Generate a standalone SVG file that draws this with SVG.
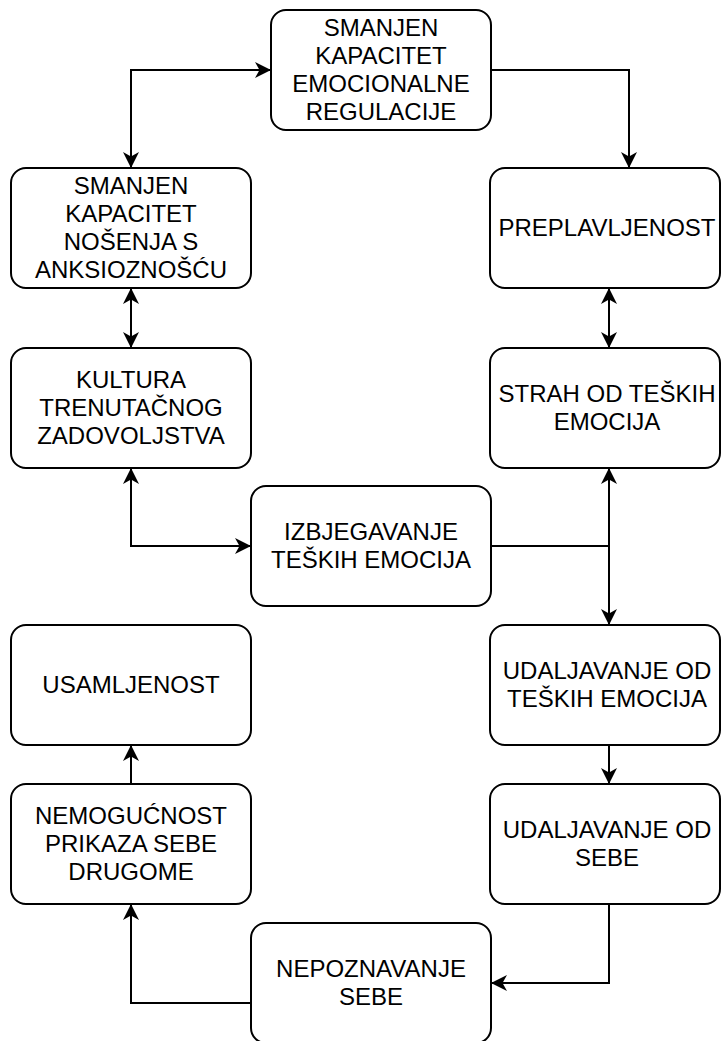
<svg xmlns="http://www.w3.org/2000/svg" width="721" height="1041" viewBox="0 0 721 1041">
<style>
.box{fill:#fff;stroke:#000;stroke-width:2}
.lbl{font-family:"Liberation Sans",Arial,Helvetica,sans-serif;font-size:24px;fill:#000;text-anchor:middle}
.edge{fill:none;stroke:#000;stroke-width:2}
</style>
<defs>
<marker id="arr" viewBox="0 -9 17 18" refX="16" refY="0" markerWidth="17" markerHeight="18" markerUnits="userSpaceOnUse" orient="auto-start-reverse">
<path d="M0,-8 L16,0 L0,8 L4.5,0 Z" fill="#000"/>
</marker>
</defs>
<rect width="721" height="1041" fill="#fff"/>
<g id="connectors">
<path class="edge" d="M131,168 V70 H271" marker-start="url(#arr)" marker-end="url(#arr)"/>
<path class="edge" d="M491,70 H629 V168" marker-end="url(#arr)"/>
<path class="edge" d="M131,288 V348" marker-start="url(#arr)" marker-end="url(#arr)"/>
<path class="edge" d="M609,288 V348" marker-start="url(#arr)" marker-end="url(#arr)"/>
<path class="edge" d="M131,468 V546 H251" marker-start="url(#arr)" marker-end="url(#arr)"/>
<path class="edge" d="M491,546 H609"/>
<path class="edge" d="M609,468 V625" marker-start="url(#arr)" marker-end="url(#arr)"/>
<path class="edge" d="M609,745 V784" marker-end="url(#arr)"/>
<path class="edge" d="M609,904 V983 H491" marker-end="url(#arr)"/>
<path class="edge" d="M251,1003 H131 V904" marker-end="url(#arr)"/>
<path class="edge" d="M131,784 V745" marker-end="url(#arr)"/>
</g>
<g id="n1"><rect class="box" x="271" y="10" width="220" height="120" rx="15"/>
<text class="lbl" x="381" y="36">SMANJEN</text><text class="lbl" x="381" y="64">KAPACITET</text><text class="lbl" x="381" y="92">EMOCIONALNE</text><text class="lbl" x="381" y="120">REGULACIJE</text></g>
<g id="n2"><rect class="box" x="11" y="168" width="240" height="120" rx="15"/>
<text class="lbl" x="131" y="194">SMANJEN</text><text class="lbl" x="131" y="222">KAPACITET</text><text class="lbl" x="131" y="250">NOŠENJA S</text><text class="lbl" x="131" y="278">ANKSIOZNOŠĆU</text></g>
<g id="n3"><rect class="box" x="490" y="168" width="230" height="120" rx="15"/>
<text class="lbl" x="607" y="236">PREPLAVLJENOST</text></g>
<g id="n4"><rect class="box" x="11" y="348" width="240" height="120" rx="15"/>
<text class="lbl" x="131" y="388">KULTURA</text><text class="lbl" x="131" y="416">TRENUTAČNOG</text><text class="lbl" x="131" y="444">ZADOVOLJSTVA</text></g>
<g id="n5"><rect class="box" x="490" y="348" width="230" height="120" rx="15"/>
<text class="lbl" x="607" y="402">STRAH OD TEŠKIH</text><text class="lbl" x="607" y="430">EMOCIJA</text></g>
<g id="n6"><rect class="box" x="251" y="486" width="240" height="120" rx="15"/>
<text class="lbl" x="371" y="540">IZBJEGAVANJE</text><text class="lbl" x="371" y="568">TEŠKIH EMOCIJA</text></g>
<g id="n7"><rect class="box" x="11" y="625" width="240" height="120" rx="15"/>
<text class="lbl" x="131" y="693">USAMLJENOST</text></g>
<g id="n8"><rect class="box" x="490" y="625" width="230" height="120" rx="15"/>
<text class="lbl" x="607" y="679">UDALJAVANJE OD</text><text class="lbl" x="607" y="707">TEŠKIH EMOCIJA</text></g>
<g id="n9"><rect class="box" x="11" y="784" width="240" height="120" rx="15"/>
<text class="lbl" x="131" y="824">NEMOGUĆNOST</text><text class="lbl" x="131" y="852">PRIKAZA SEBE</text><text class="lbl" x="131" y="880">DRUGOME</text></g>
<g id="n10"><rect class="box" x="490" y="784" width="230" height="120" rx="15"/>
<text class="lbl" x="607" y="838">UDALJAVANJE OD</text><text class="lbl" x="607" y="866">SEBE</text></g>
<g id="n11"><rect class="box" x="251" y="923" width="240" height="120" rx="15"/>
<text class="lbl" x="371" y="977">NEPOZNAVANJE</text><text class="lbl" x="371" y="1005">SEBE</text></g>
</svg>
